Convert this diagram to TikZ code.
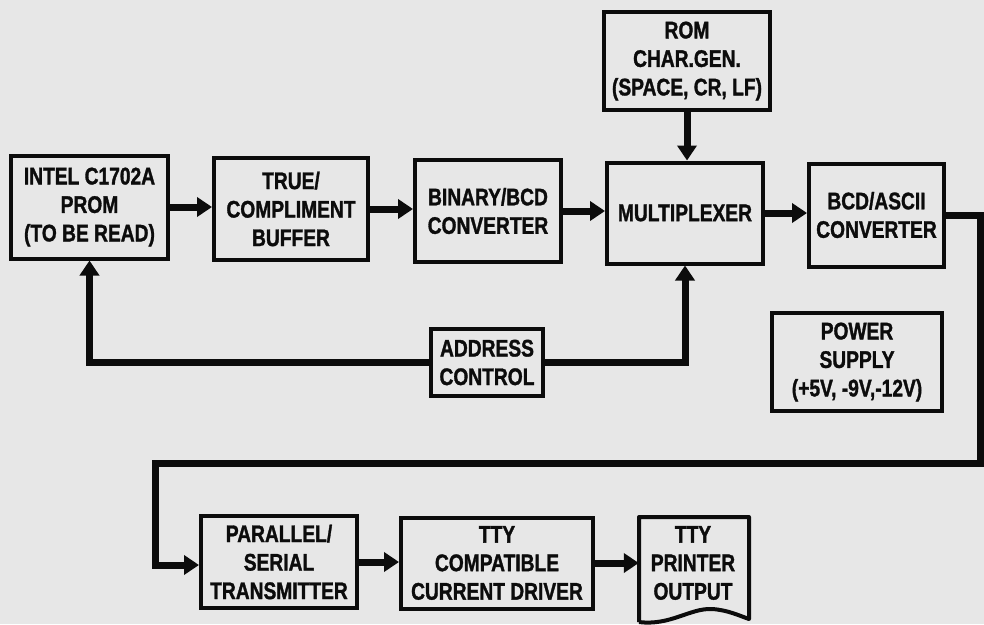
\documentclass[tikz,border=0pt]{standalone}
\usepackage{fontspec}
\setmainfont{Liberation Sans}[FakeStretch=0.8, BoldFeatures={FakeBold=1.3}]
\usetikzlibrary{arrows.meta,calc}
\definecolor{paper}{RGB}{231,231,231}
\definecolor{ink}{RGB}{12,12,12}
\begin{document}
\begin{tikzpicture}[x=1pt,y=-1pt,
  blk/.style={draw=ink, line width=4pt, fill=paper, align=center, inner sep=0pt,
    font=\bfseries\fontsize{24}{28.5}\selectfont, text=ink},
  txt/.style={align=center, inner sep=0pt, font=\bfseries\fontsize{24}{28.5}\selectfont, text=ink},
  conn/.style={draw=ink, line width=7pt, -{Triangle[length=15pt,width=19pt]}},
  outl/.style={draw=ink, line width=4pt, line join=round}]
\fill[paper] (0,0) rectangle (984,624);
\useasboundingbox (0,0) rectangle (984,624);
% top row
\node[blk, minimum width=157pt, minimum height=103pt] (prom) at (89.5,207) {INTEL C1702A\\PROM\\(TO BE READ)};
\node[blk, minimum width=154pt, minimum height=102pt] (tcb) at (291,209) {TRUE/\\COMPLIMENT\\BUFFER};
\node[blk, minimum width=146pt, minimum height=102pt] (bin) at (488,211) {BINARY/BCD\\CONVERTER};
\node[blk, minimum width=156pt, minimum height=101pt] (mux) at (685,213) {MULTIPLEXER};
\node[blk, minimum width=135pt, minimum height=103pt] (bcd) at (876.5,215) {BCD/ASCII\\CONVERTER};
\node[blk, minimum width=166pt, minimum height=98pt] (rom) at (687,61) {ROM\\CHAR.GEN.\\(SPACE, CR, LF)};
\node[blk, minimum width=170pt, minimum height=98pt] (pwr) at (857,362) {POWER\\SUPPLY\\(+5V, -9V,-12V)};
\node[blk, minimum width=112pt, minimum height=67pt] (adr) at (487,362.5) {ADDRESS\\CONTROL};
% bottom row
\node[blk, minimum width=156pt, minimum height=92pt] (pst) at (279,562) {PARALLEL/\\SERIAL\\TRANSMITTER};
\node[blk, minimum width=192pt, minimum height=91pt] (ttd) at (497,563) {TTY\\COMPATIBLE\\CURRENT DRIVER};
\node[txt, minimum width=108pt, minimum height=92pt] (prt) at (693,563) {TTY\\PRINTER\\OUTPUT};
\draw[outl] (639,622) -- (639,517) -- (749,517) -- (749,619)
  .. controls (740,616) and (728,610) .. (712,609)
  .. controls (690,608) and (670,626) .. (639,622);
% connectors
\draw[conn] (prom.east) -- (prom.east -| tcb.west);
\draw[conn] (tcb.east) -- (tcb.east -| bin.west);
\draw[conn] (bin.east) -- (bin.east -| mux.west);
\draw[conn] (mux.east) -- (mux.east -| bcd.west);
\draw[conn] (rom.south) -- (rom.south |- mux.north);
\draw[conn] (adr.west) -| (prom.south);
\draw[conn] (adr.east) -| (mux.south);
\coordinate (r1) at (980.5,463);
\coordinate (l1) at (155,565);
\draw[conn] (bcd.east) -| (r1) -| (l1) -- (l1 -| pst.west);
\draw[conn] (pst.east) -- (pst.east -| ttd.west);
\draw[conn] (ttd.east) -- (ttd.east -| prt.west);
\end{tikzpicture}
\end{document}
